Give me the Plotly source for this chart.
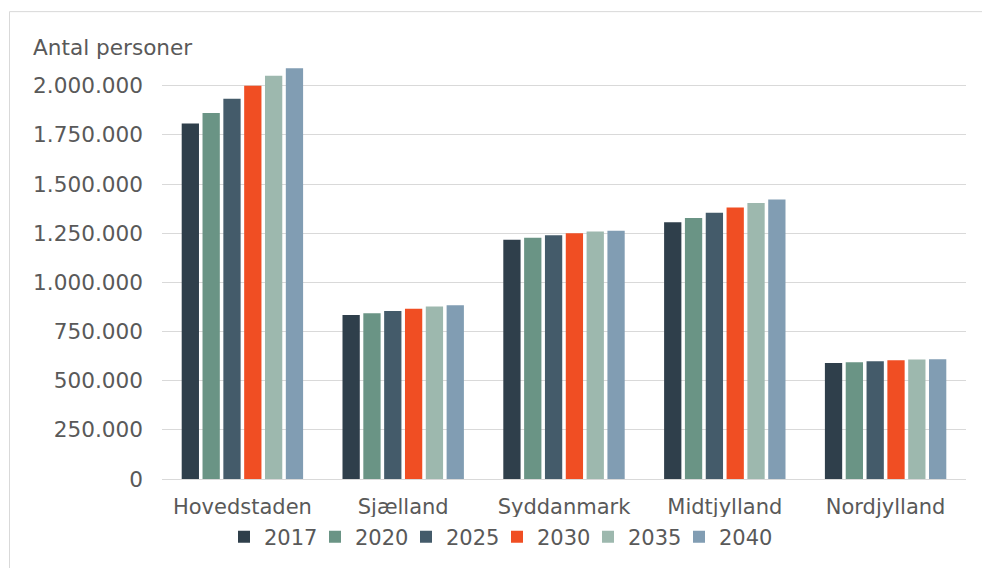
import plotly.graph_objects as go

# Regions and projection years
regions = ["Hovedstaden", "Sjælland", "Syddanmark", "Midtjylland", "Nordjylland"]
years = ["2017", "2020", "2025", "2030", "2035", "2040"]

# Population per region (persons)
pop_2017 = [1807000, 834000, 1217000, 1305000, 590000]
pop_2020 = [1861000, 843000, 1227000, 1327000, 594000]
pop_2025 = [1934000, 854000, 1239000, 1354000, 599000]
pop_2030 = [2000000, 866000, 1249000, 1381000, 604000]
pop_2035 = [2051000, 877000, 1259000, 1403000, 607000]
pop_2040 = [2088000, 883000, 1262000, 1421000, 609000]
series = [pop_2017, pop_2020, pop_2025, pop_2030, pop_2035, pop_2040]

colors = ["#2F3F4B", "#6A9485", "#445B6A", "#F04E23", "#9DB8AE", "#819DB3"]

tick_vals = [0, 250000, 500000, 750000, 1000000, 1250000, 1500000, 1750000, 2000000]

FONT = "DejaVu Sans"
TXT = "#595959"
GRID = "#D9D9D9"

fig = go.Figure()
for yr, vals, col in zip(years, series, colors):
    fig.add_trace(go.Bar(name=yr, x=regions, y=vals, marker=dict(color=col, line=dict(width=0))))

# blank trailing legend slot so the last (fixed-width) entry keeps room for its label
fig.add_trace(go.Scatter(x=[None], y=[None], mode="markers", name=" ", hoverinfo="skip",
                         marker=dict(color="rgba(0,0,0,0)", size=1)))

L, R, T, B = 162, 16, 66, 88
W, H = 982, 568
pw, ph = W - L - R, H - T - B


def px_x(x):
    return (x - L) / pw


def px_y(y):
    return (H - B - y) / ph


fig.update_layout(
    width=W, height=H,
    margin=dict(l=L, r=R, t=T, b=B),
    paper_bgcolor="white", plot_bgcolor="white",
    barmode="group", bargap=0.223, bargroupgap=0.17,
    separators=",.",
    font=dict(family=FONT, size=21, color=TXT),
    showlegend=True,
    legend=dict(orientation="h", x=px_x(224), xanchor="left", y=px_y(537), yanchor="middle",
                font=dict(size=21, color=TXT), itemclick=False, traceorder="normal",
                itemwidth=30, entrywidth=46, entrywidthmode="pixels", tracegroupgap=0),
    xaxis=dict(type="category", showgrid=False, showline=True, linecolor=GRID, linewidth=1,
               ticks="", tickfont=dict(size=21, color=TXT), ticklabelstandoff=9),
    yaxis=dict(range=[0, 2100000], tickvals=tick_vals, tickformat=",d", showgrid=True,
               gridcolor=GRID, gridwidth=1, zeroline=False, showline=False, ticks="",
               tickfont=dict(size=21.6, color=TXT), ticklabelstandoff=18),
    annotations=[dict(text="Antal personer", xref="paper", yref="paper", x=px_x(31), y=px_y(47),
                      xanchor="left", yanchor="middle", showarrow=False,
                      font=dict(size=21.6, color=TXT, family=FONT))],
    shapes=[dict(type="rect", xref="paper", yref="paper", x0=px_x(9.5), x1=px_x(1000),
                 y0=px_y(600), y1=px_y(11.5), line=dict(color=GRID, width=1), layer="below")],
)

fig.write_html("out.html")
